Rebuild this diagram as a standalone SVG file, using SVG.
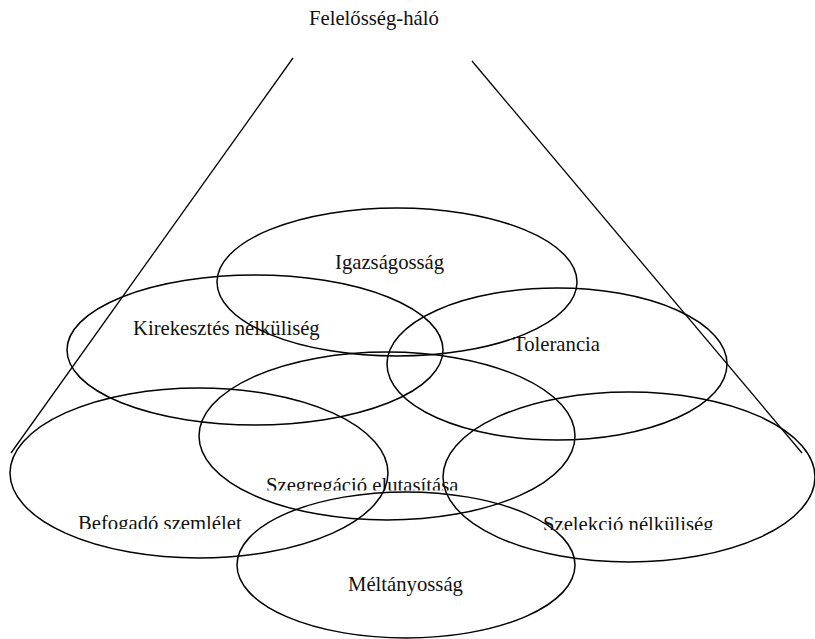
<svg xmlns="http://www.w3.org/2000/svg" width="815" height="639" viewBox="0 0 815 639">
<style>
.n{fill:none;stroke:#000;stroke-width:1.5}
.l{stroke:#000;stroke-width:1.3;fill:none}
text{font-family:"Liberation Serif","Times New Roman",serif;font-size:20.7px;fill:#111}
</style>
<defs>
<clipPath id="c1"><rect x="0" y="0" width="815" height="490.5"/></clipPath>
<clipPath id="c2"><rect x="0" y="0" width="815" height="529"/></clipPath>
<clipPath id="c3"><rect x="0" y="0" width="815" height="530"/></clipPath>
</defs>
<rect width="815" height="639" fill="#fff"/>
<g id="title"><text x="309" y="25">Felelősség-háló</text></g>
<g id="connectors">
<line class="l" x1="293" y1="58" x2="11" y2="453"/>
<line class="l" x1="472" y1="61" x2="802" y2="453"/>
</g>
<g id="igazsagossag"><ellipse class="n" cx="397" cy="282" rx="180" ry="74"/><text x="335" y="269">Igazságosság</text></g>
<g id="kirekesztes"><ellipse class="n" cx="255" cy="350" rx="188" ry="75"/><text x="133" y="335">Kirekesztés nélküliség</text></g>
<g id="tolerancia"><ellipse class="n" cx="557" cy="364" rx="170" ry="76"/><text x="513" y="351">Tolerancia</text></g>
<g id="szegregacio"><ellipse class="n" cx="387" cy="436" rx="188" ry="84"/><text x="266" y="492" clip-path="url(#c1)">Szegregáció elutasítása</text></g>
<g id="befogado"><ellipse class="n" cx="199" cy="473" rx="189" ry="85"/><text x="78" y="530" clip-path="url(#c2)">Befogadó szemlélet</text></g>
<g id="szelekcio"><ellipse class="n" cx="629" cy="477" rx="186" ry="85"/><text x="543" y="531" clip-path="url(#c3)">Szelekció nélküliség</text></g>
<g id="meltanyossag"><ellipse class="n" cx="406" cy="565" rx="169" ry="73"/><text x="348" y="591">Méltányosság</text></g>
</svg>
